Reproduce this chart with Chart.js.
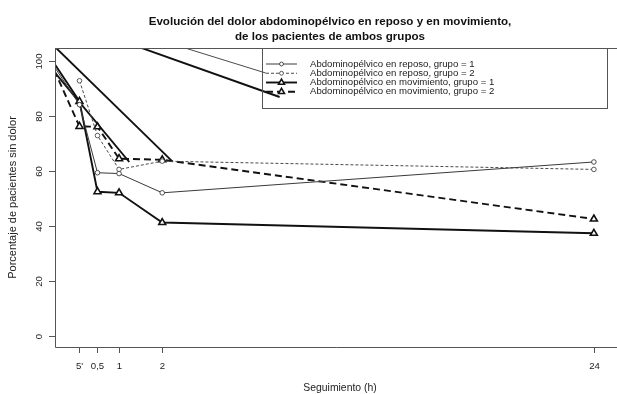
<!DOCTYPE html>
<html>
<head>
<meta charset="utf-8">
<script src="https://cdn.jsdelivr.net/npm/chart.js@4/dist/chart.umd.min.js"></script>
<style>
  html, body { margin: 0; padding: 0; background: #fff; }
  #grafico { display: block; }
</style>
</head>
<body>
<canvas id="grafico" width="617" height="394"></canvas>
<script>
// Eje X: posición de cada seguimiento (24 h se dibuja en 12, como en el original)
const posiciones = [5 / 60, 0.5, 1, 2, 12];
const etiquetasX = ["5'", "0,5", "1", "2", "24"];
const ticksY = [0, 20, 40, 60, 80, 100];

// Porcentaje de pacientes sin dolor
const reposoG1 = [84, 59.3, 59, 52, 63.2];
const reposoG2 = [92.7, 72.8, 60.5, 63.5, 60.5];
const movimientoG1 = [85.2, 52.4, 52, 41.2, 37.3];
const movimientoG2 = [76.1, 76, 64.4, 64, 42.5];

// Valor inicial (fuera del eje, a la izquierda)
const inicioX = -0.5;
const inicioReposoG1 = 97.8;
const inicioMovG1 = 99;
const inicioMovG2 = 96.5;

// Trazos sueltos que aparecen en la figura original
const trazoA = [[-0.713, 108.5], [2.222, 63.6]];
const trazoB = [[1.236, 106.2], [4.72, 86.8]];
const trazoC = [[2.222, 106.1], [4.40, 95.5]];
const trazoD = [[-0.713, 99.9], [1.236, 63.2]];

const leyenda = [
    "Abdominopélvico en reposo, grupo = 1",
    "Abdominopélvico en reposo, grupo = 2",
    "Abdominopélvico en movimiento, grupo = 1",
    "Abdominopélvico en movimiento, grupo = 2"
];

const puntos = (valores, inicio) => {
    const d = valores.map((v, i) => ({ x: posiciones[i], y: v }));
    if (inicio !== undefined) d.unshift({ x: inicioX, y: inicio });
    return d;
};
const trazo = (t) => t.map(p => ({ x: p[0], y: p[1] }));

// Estilos de cada serie
const estilos = [
    { borderColor: '#3a3a3a', borderWidth: 1, borderDash: [], pointStyle: 'circle', pointRadius: 2.3, pointBorderWidth: 0.9 },
    { borderColor: '#4a4a4a', borderWidth: 1, borderDash: [3, 2], pointStyle: 'circle', pointRadius: 2.3, pointBorderWidth: 0.9 },
    { borderColor: '#111', borderWidth: 1.9, borderDash: [], pointStyle: 'triangle', pointRadius: 4, pointBorderWidth: 1.6 },
    { borderColor: '#111', borderWidth: 1.9, borderDash: [7, 4], pointStyle: 'triangle', pointRadius: 4, pointBorderWidth: 1.6 }
];
const series = [puntos(reposoG1, inicioReposoG1), puntos(reposoG2), puntos(movimientoG1, inicioMovG1), puntos(movimientoG2, inicioMovG2)];

const datasets = series.map((data, i) => ({
    label: leyenda[i],
    data: data,
    showLine: true,
    borderColor: estilos[i].borderColor,
    borderWidth: estilos[i].borderWidth,
    borderDash: estilos[i].borderDash,
    pointStyle: estilos[i].pointStyle,
    // sin marcador en el punto inicial
    pointRadius: data.map(p => p.x < 0 ? 0 : estilos[i].pointRadius),
    pointBorderWidth: estilos[i].pointBorderWidth,
    pointBorderColor: estilos[i].borderColor,
    pointBackgroundColor: '#fff',
    tension: 0
}));

[[trazoA, 1.9, '#111'], [trazoB, 1.9, '#111'], [trazoC, 1, '#4a4a4a'], [trazoD, 1.9, '#111']].forEach(([t, w, c]) => {
    datasets.push({ label: '', data: trazo(t), showLine: true, borderColor: c, borderWidth: w, pointRadius: 0 });
});

const fuente = '"Liberation Sans", Arial, Helvetica, sans-serif';

// Ejes, título y leyenda al estilo de R
const ejesR = {
    id: 'ejesR',
    afterDraw(chart) {
        const { ctx, chartArea: a, scales: { x, y } } = chart;
        ctx.save();
        ctx.strokeStyle = '#555';
        ctx.lineWidth = 1;
        ctx.setLineDash([]);
        // caja
        ctx.beginPath();
        ctx.moveTo(617, a.top + 0.5);
        ctx.lineTo(a.left + 0.5, a.top + 0.5);
        ctx.lineTo(a.left + 0.5, a.bottom + 0.5);
        ctx.lineTo(617, a.bottom + 0.5);
        ctx.stroke();

        ctx.fillStyle = '#222';
        ctx.font = '9.6px ' + fuente;
        // ticks Y
        ticksY.forEach(v => {
            const py = Math.round(y.getPixelForValue(v)) + 0.5;
            ctx.beginPath();
            ctx.moveTo(a.left - 6, py);
            ctx.lineTo(a.left, py);
            ctx.stroke();
            ctx.save();
            ctx.translate(a.left - 16, py);
            ctx.rotate(-Math.PI / 2);
            ctx.textAlign = 'center';
            ctx.textBaseline = 'middle';
            ctx.fillText(String(v), 0, 0);
            ctx.restore();
        });
        // ticks X
        posiciones.forEach((v, i) => {
            const px = Math.round(x.getPixelForValue(v)) + 0.5;
            ctx.beginPath();
            ctx.moveTo(px, a.bottom);
            ctx.lineTo(px, a.bottom + 6);
            ctx.stroke();
            ctx.textAlign = 'center';
            ctx.textBaseline = 'middle';
            ctx.fillText(etiquetasX[i], px, a.bottom + 19);
        });

        // títulos de ejes
        ctx.font = '10.4px ' + fuente;
        ctx.textAlign = 'center';
        ctx.textBaseline = 'alphabetic';
        ctx.fillText('Seguimiento (h)', 340, 391);
        ctx.save();
        ctx.translate(16, (a.top + a.bottom) / 2);
        ctx.rotate(-Math.PI / 2);
        ctx.font = '11px ' + fuente;
        ctx.fillText('Porcentaje de pacientes sin dolor', 0, 0);
        ctx.restore();

        // título
        ctx.fillStyle = '#111';
        ctx.font = 'bold 11.6px ' + fuente;
        ctx.fillText('Evolución del dolor abdominopélvico en reposo y en movimiento,', 330, 25);
        ctx.fillText('de los pacientes de ambos grupos', 330, 40);

        // leyenda
        ctx.strokeStyle = '#555';
        ctx.lineWidth = 1;
        ctx.strokeRect(262.5, a.top + 0.5, 345, 60);
        ctx.font = '9.6px ' + fuente;
        ctx.textAlign = 'left';
        ctx.textBaseline = 'middle';
        leyenda.forEach((txt, i) => {
            const e = estilos[i];
            const py = 64 + i * 9.25;
            ctx.strokeStyle = e.borderColor;
            ctx.lineWidth = e.borderWidth;
            ctx.setLineDash(e.borderDash);
            ctx.beginPath();
            ctx.moveTo(266, py);
            ctx.lineTo(297, py);
            ctx.stroke();
            ctx.setLineDash([]);
            ctx.lineWidth = e.pointBorderWidth;
            ctx.fillStyle = '#fff';
            Chart.helpers.drawPoint(ctx, { pointStyle: e.pointStyle, radius: e.pointRadius * 0.85, borderWidth: e.pointBorderWidth, rotation: 0 }, 281.5, py);
            ctx.fillStyle = '#222';
            ctx.fillText(txt, 310, py);
        });
        ctx.restore();
    }
};

new Chart(document.getElementById('grafico'), {
    type: 'scatter',
    data: { datasets: datasets },
    options: {
        responsive: false,
        animation: false,
        devicePixelRatio: 1,
        layout: { padding: { left: 55, right: 0, top: 48, bottom: 47 } },
        plugins: { legend: { display: false }, tooltip: { enabled: false } },
        scales: {
            x: { type: 'linear', min: -0.484, max: 12.406, display: false },
            y: { type: 'linear', min: -4, max: 104.6, display: false }
        }
    },
    plugins: [ejesR]
});
</script>
</body>
</html>
